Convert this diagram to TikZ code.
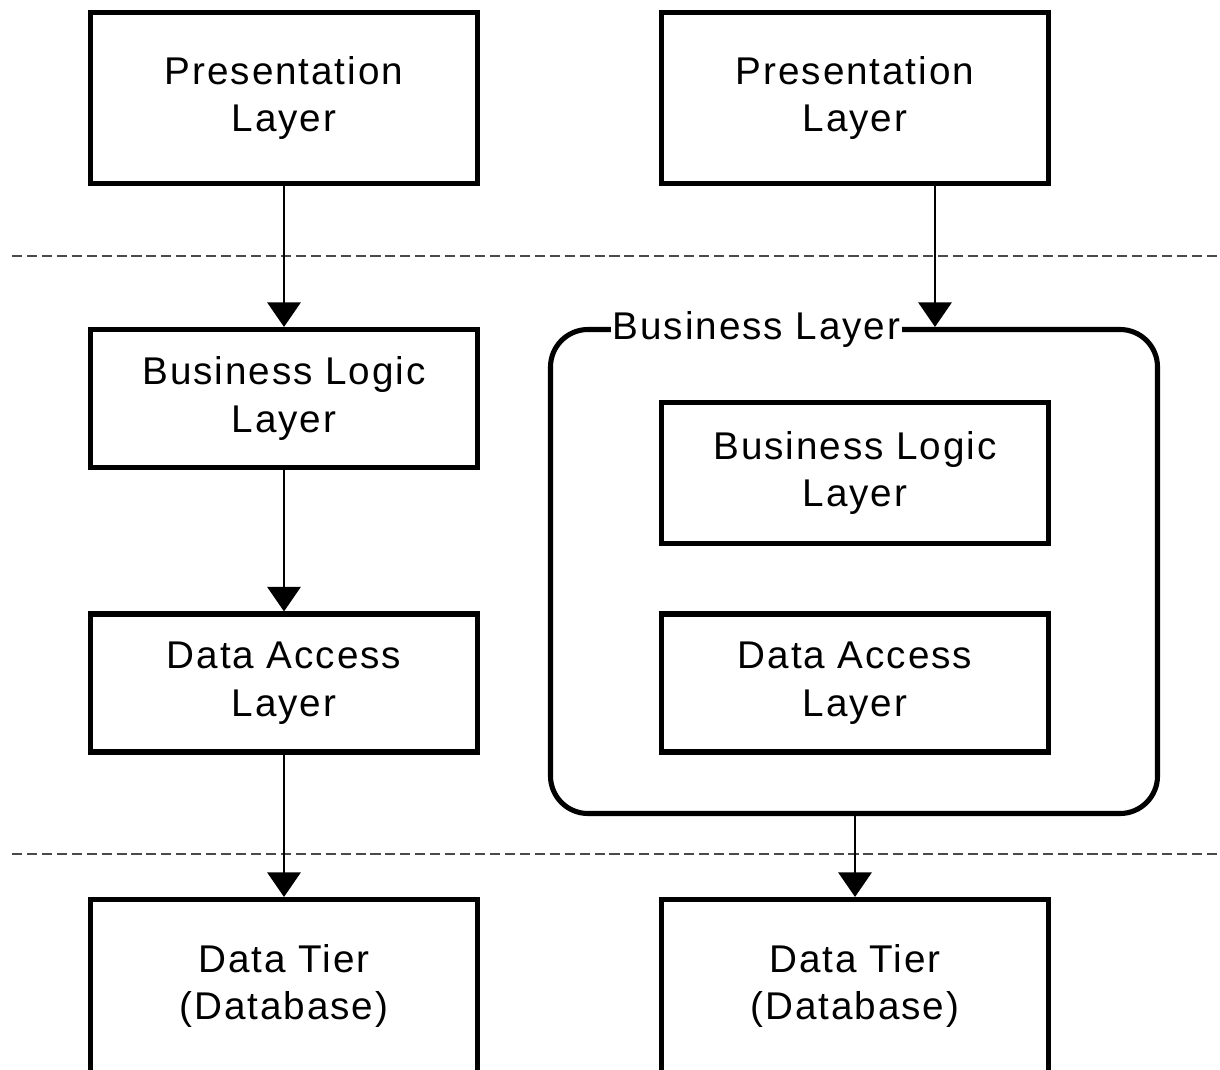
\documentclass[tikz,border=0pt]{standalone}
\usepackage{fontspec}
\setmainfont{Liberation Sans}[LetterSpace=5]
\usetikzlibrary{arrows.meta}
\definecolor{rule}{HTML}{4A4A4A}
\tikzset{
  every picture/.style={font=\fontsize{22}{27}\selectfont, >={Triangle[width=19pt,length=14pt]}},
  layerbox/.style={draw, line width=2.9pt, minimum width=7.74cm, align=center},
  groupbox/.style={draw, line width=2.9pt, rounded corners=0.75cm},
  flow/.style={->, line width=1.1pt},
  tierline/.style={rule, line width=1.2pt, dash pattern=on 5.7pt off 2.8pt},
}

\begin{document}
\begin{tikzpicture}
\useasboundingbox (0,0) rectangle (24.400,21.380);
\node[layerbox, minimum height=3.42cm] (presL) at (5.680,19.420) {Presentation\\Layer};
\node[layerbox, minimum height=3.42cm] (presR) at (17.100,19.420) {Presentation\\Layer};
\draw[tierline] (0.240,16.260) -- (24.400,16.260);
\node[groupbox, minimum width=12.14cm, minimum height=9.68cm] (busR) at (17.080,9.950) {};
\node[fill=white, inner sep=1pt] (busRtitle) at (15.130,14.790) {Business Layer};
\node[layerbox, minimum height=2.76cm] (bllL) at (5.680,13.410) {Business Logic\\Layer};
\node[layerbox, minimum height=2.82cm] (bllR) at (17.100,11.920) {Business Logic\\Layer};
\node[layerbox, minimum height=2.76cm] (dalL) at (5.680,7.720) {Data Access\\Layer};
\node[layerbox, minimum height=2.76cm] (dalR) at (17.100,7.720) {Data Access\\Layer};
\draw[tierline] (0.240,4.300) -- (24.400,4.300);
\node[layerbox, minimum height=3.46cm] (dbL) at (5.680,1.660) {Data Tier\\(Database)};
\node[layerbox, minimum height=3.46cm] (dbR) at (17.100,1.660) {Data Tier\\(Database)};
\draw[flow] (presL.south) -- (bllL.north);
\draw[flow] (bllL.south) -- (dalL.north);
\draw[flow] (dalL.south) -- (dbL.north);
\draw[flow] ([xshift=1.6cm]presR.south) -- ([xshift=1.6cm]presR.south |- busR.north);
\draw[flow] (dbR.north |- busR.south) -- (dbR.north);
\end{tikzpicture}
\end{document}
